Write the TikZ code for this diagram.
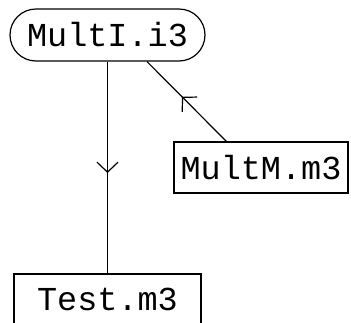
\documentclass[tikz,border=0pt]{standalone}
\usepackage{fontspec}
\setmonofont{Liberation Mono}
\usetikzlibrary{arrows.meta,decorations.markings}
\tikzset{
  box/.style={draw, line width=1.2pt, inner sep=0pt, font=\ttfamily\fontsize{33.5}{33.5}\selectfont},
  rbox/.style={box, rounded corners=26pt},
  midarrow/.style={postaction={decorate}, decoration={markings,
      mark=at position #1 with {\arrow{Straight Barb[length=10pt,width=21pt,line width=1.2pt]}}}},
  conn/.style={line width=1.2pt}
}
\begin{document}
\begin{tikzpicture}[x=1pt,y=-1pt]
\useasboundingbox (0,0) rectangle (351,322);
\node[rbox, minimum width=195pt, minimum height=52pt] (multi) at (107.5,35) {MultI.i3};
\node[box, minimum width=187pt, minimum height=51pt] (test) at (107.5,299.5) {Test.m3};
\node[box, minimum width=174pt, minimum height=51pt] (multm) at (261,167.5) {MultM.m3};
\draw[conn, midarrow=0.526] (multi.south) -- (test.north);
\draw[conn, midarrow=0.56] ([xshift=53pt]multm.north west) -- ([xshift=39.5pt]multi.south);
\end{tikzpicture}
\end{document}
